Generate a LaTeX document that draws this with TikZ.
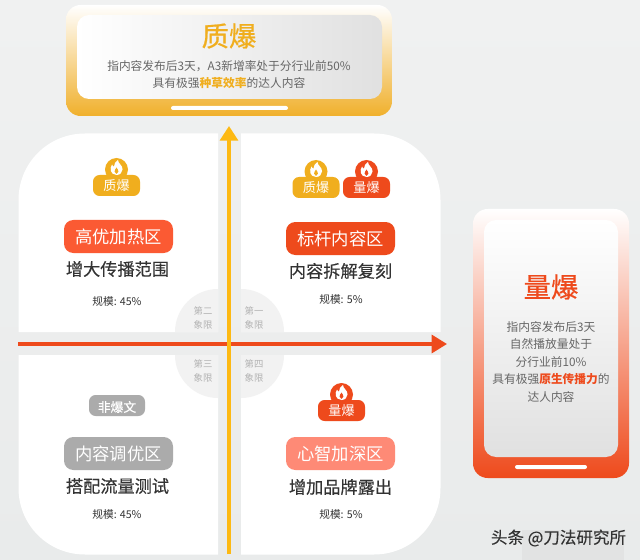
\documentclass[tikz,border=0pt]{standalone}
\usepackage{fontspec}
\setmainfont{Noto Sans CJK SC}
\newfontfamily\cjkmid[FakeBold=0.25]{Noto Sans CJK SC}
\newfontfamily\cjkheavy[FakeBold=0.7]{Noto Sans CJK SC}
\usetikzlibrary{arrows.meta}

\definecolor{pageTop}{HTML}{F0F1F1}
\definecolor{pageLow}{HTML}{E9EBEB}
\definecolor{markGray}{HTML}{E2E3E3}
\definecolor{quadGray}{HTML}{F2F2F2}
\definecolor{goldCol}{HTML}{F0AE1E}
\definecolor{cardGold}{HTML}{F0B02C}
\definecolor{axisGold}{HTML}{FDB913}
\definecolor{fireCol}{HTML}{EE4A1C}
\definecolor{hotCol}{HTML}{FB5A33}
\definecolor{softCol}{HTML}{FE8A76}
\definecolor{muteCol}{HTML}{ABABAB}
\definecolor{bodyCol}{HTML}{666666}
\definecolor{darkCol}{HTML}{333333}

\tikzset{
  every picture/.style={line width=0.75pt},
  bigTitle/.style={inner sep=0.75pt,font=\fontsize{20.5}{24}\cjkheavy\selectfont},
  bodyText/.style={inner sep=0.75pt,text=bodyCol,font=\fontsize{8.8}{11}\selectfont},
  badgeBox/.style={rounded corners=5pt,line width=0pt},
  badgeText/.style={inner sep=0.75pt,text=white,font=\fontsize{9.8}{11}\selectfont},
  zonePill/.style={rounded corners=7pt},
  zoneText/.style={inner sep=0.75pt,text=white,font=\fontsize{13}{15}\selectfont},
  subText/.style={inner sep=0.75pt,text=darkCol,font=\fontsize{12.9}{15}\cjkmid\selectfont},
  sizeText/.style={inner sep=0.75pt,text=darkCol,font=\fontsize{8}{9}\selectfont},
  quadText/.style={inner sep=0.75pt,text=black!30,font=\fontsize{7}{8}\selectfont},
  axisLine/.style={line width=2.4pt},
}

% badge body with its flame: x, y of the centre, colour
\newcommand{\fireBadge}[3]{%
  \fill [#3] (#1,#2-16) circle [radius=11.5];
  \fill [#3, badgeBox] (#1-23.5,#2-10.5) rectangle (#1+23.5,#2+10.5);
  \fill [white] (#1,#2-10.5) .. controls (#1-6.5,#2-11) and (#1-7,#2-17) .. (#1-4.5,#2-21) .. controls (#1-4,#2-19.5) and (#1-3,#2-19) .. (#1-2.5,#2-19) .. controls (#1-2.5,#2-21.5) and (#1-1,#2-24) .. (#1+1.5,#2-25.5) .. controls (#1+1.5,#2-22) and (#1+6.5,#2-20) .. (#1+6,#2-16) .. controls (#1+6,#2-13) and (#1+3.5,#2-10.5) .. (#1,#2-10.5) -- cycle;
  \fill [#3] (#1,#2-11.5) .. controls (#1-2.5,#2-12) and (#1-2.5,#2-15) .. (#1,#2-18) .. controls (#1+2.5,#2-15) and (#1+2.5,#2-12) .. (#1,#2-11.5) -- cycle;
}

\begin{document}
\begin{tikzpicture}[x=0.75pt,y=0.75pt,yscale=-1,xscale=1]
\useasboundingbox (0,0) rectangle (640,560);
\shade [top color=pageTop,bottom color=pageLow] (0,0) rectangle (640,560);
\fill [markGray] (522,530) rectangle (624,560);

%White quadrants
\fill [white] (218,133.5) -- (85,133.5) .. controls (48,133.5) and (18.5,163) .. (18.5,200) -- (18.5,332) -- (218,332) -- cycle;
\fill [white] (241,133.5) -- (374,133.5) .. controls (411,133.5) and (440.5,163) .. (440.5,200) -- (440.5,332) -- (241,332) -- cycle;
\fill [white] (218,355) -- (18.5,355) -- (18.5,488) .. controls (18.5,525) and (48,554.5) .. (85,554.5) -- (218,554.5) -- cycle;
\fill [white] (241,355) -- (440.5,355) -- (440.5,488) .. controls (440.5,525) and (411,554.5) .. (374,554.5) -- (241,554.5) -- cycle;

%Quadrant corners
\fill [quadGray] (218,332) -- (175,332) arc [start angle=180,end angle=270,radius=43] -- cycle;
\fill [quadGray] (241,332) -- (284,332) arc [start angle=0,end angle=-90,radius=43] -- cycle;
\fill [quadGray] (218,355) -- (175,355) arc [start angle=180,end angle=90,radius=43] -- cycle;
\fill [quadGray] (241,355) -- (284,355) arc [start angle=0,end angle=90,radius=43] -- cycle;

%Top card
\shade [top color=white,bottom color=cardGold,rounded corners=11pt] (66,5) rectangle (392,116);
\shade [left color=white,right color=black!12,rounded corners=9pt] (77,15) rectangle (382,99);
\fill [white,rounded corners=1.5pt] (171,106) rectangle (288,110);

%Right card
\shade [top color=white,bottom color=fireCol,rounded corners=11pt] (473,209) rectangle (629,478);
\shade [top color=white,bottom color=black!12,rounded corners=9pt] (484,220) rectangle (618,457);
\fill [white,rounded corners=1.5pt] (515,465) rectangle (587,469);

%Straight Lines
\coordinate (xStart) at (18,344);
\coordinate (xEnd) at (447,344);
\coordinate (yStart) at (229,554);
\coordinate (yEnd) at (229,126);
\draw [fireCol,axisLine,-{Triangle[length=11.5pt,width=13.5pt]}] (xStart) -- (xEnd);
\draw [axisGold,axisLine,-{Triangle[length=11pt,width=13.5pt]}] (yStart) -- (yEnd);

%Badges
\fireBadge{116.5}{185.5}{goldCol}
\fireBadge{316}{187.5}{goldCol}
\fireBadge{366.5}{187.5}{fireCol}
\fireBadge{341.5}{410.5}{fireCol}
\fill [muteCol,badgeBox] (89,395) rectangle (145,416);

%Zone pills
\fill [hotCol,zonePill] (64,220) rectangle (173,253);
\fill [fireCol,zonePill] (286,222) rectangle (395,255);
\fill [muteCol,zonePill] (64,437) rectangle (173,470);
\fill [softCol,zonePill] (286,437) rectangle (395,470);

% Text Node
\draw (229,36) node (topTitle) [bigTitle,text=goldCol] {质爆};
% Text Node
\draw (229,66) node (topLineA) [bodyText] {指内容发布后3天，A3新增率处于分行业前50\%};
% Text Node
\draw (229,83.5) node (topLineB) [bodyText] {具有极强{\bfseries\color{goldCol}种草效率}的达人内容};
% Text Node
\draw (551,287) node (rightTitle) [bigTitle,text=fireCol] {量爆};
% Text Node
\draw (551,327) node (rightLineA) [bodyText] {指内容发布后3天};
% Text Node
\draw (551,344.5) node (rightLineB) [bodyText] {自然播放量处于};
% Text Node
\draw (551,362) node (rightLineC) [bodyText] {分行业前10\%};
% Text Node
\draw (551,379.5) node (rightLineD) [bodyText] {具有极强{\bfseries\color{fireCol}原生传播力}的};
% Text Node
\draw (551,397) node (rightLineE) [bodyText] {达人内容};

% Text Node
\draw (116.5,186) node (tlBadge) [badgeText] {质爆};
% Text Node
\draw (316,188) node (trBadgeA) [badgeText] {质爆};
% Text Node
\draw (366.5,188) node (trBadgeB) [badgeText] {量爆};
% Text Node
\draw (117,407) node (blBadge) [badgeText,font=\fontsize{9.6}{11}\cjkmid\selectfont] {非爆文};
% Text Node
\draw (341.5,411) node (brBadge) [badgeText] {量爆};

% Text Node
\draw (118.5,236.5) node (tlZone) [zoneText] {高优加热区};
% Text Node
\draw (340.5,238.5) node (trZone) [zoneText] {标杆内容区};
% Text Node
\draw (118.5,453.5) node (blZone) [zoneText] {内容调优区};
% Text Node
\draw (340.5,453.5) node (brZone) [zoneText] {心智加深区};

% Text Node
\draw (117.5,269) node (tlSub) [subText] {增大传播范围};
% Text Node
\draw (340.5,271) node (trSub) [subText] {内容拆解复刻};
% Text Node
\draw (117.5,486) node (blSub) [subText] {搭配流量测试};
% Text Node
\draw (340.5,487) node (brSub) [subText] {增加品牌露出};

% Text Node
\draw (117,301) node (tlSize) [sizeText] {规模: 45\%};
% Text Node
\draw (341,299) node (trSize) [sizeText] {规模: 5\%};
% Text Node
\draw (117,514) node (blSize) [sizeText] {规模: 45\%};
% Text Node
\draw (341,514) node (brSize) [sizeText] {规模: 5\%};

% Text Node
\draw (203,311) node (quadTwoA) [quadText] {第二};
% Text Node
\draw (203,324.5) node (quadTwoB) [quadText] {象限};
% Text Node
\draw (254,311) node (quadOneA) [quadText] {第一};
% Text Node
\draw (254,324.5) node (quadOneB) [quadText] {象限};
% Text Node
\draw (203,364) node (quadThreeA) [quadText] {第三};
% Text Node
\draw (203,378) node (quadThreeB) [quadText] {象限};
% Text Node
\draw (254,364) node (quadFourA) [quadText] {第四};
% Text Node
\draw (254,378) node (quadFourB) [quadText] {象限};

% Text Node
\draw (558.5,538) node (markText) [inner sep=0.75pt,text=darkCol,font=\fontsize{12.4}{14}\cjkmid\selectfont] {头条 @刀法研究所};

\end{tikzpicture}
\end{document}
